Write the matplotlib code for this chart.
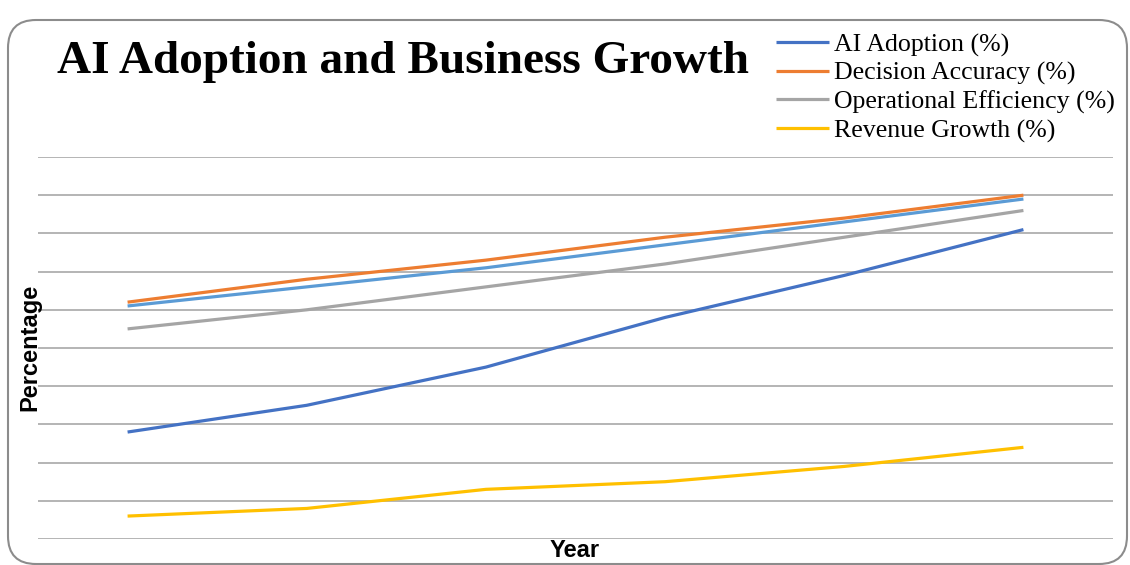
import matplotlib
matplotlib.use('Agg')
import matplotlib.pyplot as plt
from matplotlib.patches import FancyBboxPatch

# values (no axis labels shown, scale 0-100)
years = [0, 1, 2, 3, 4, 5]
ai_adoption = [28, 35, 45, 58, 69, 81]
decision_accuracy = [62, 68, 73, 79, 84, 90]
operational_efficiency = [55, 60, 66, 72, 79, 86]
revenue_growth = [6, 8, 13, 15, 19, 24]
extra_series = [61, 66, 71, 77, 83, 89]  # drawn but not in the legend

labels = ['AI Adoption (%)', 'Decision Accuracy (%)',
          'Operational Efficiency (%)', 'Revenue Growth (%)']
colors = ['#4472C4', '#ED7D31', '#A5A5A5', '#FFC000']

fig = plt.figure(figsize=(11.3, 5.65), dpi=100)
ax = fig.add_axes([38/1130, 1-539/565, (1113-38)/1130, (539-157)/565])

lines = []
for vals, c, lab in zip([ai_adoption, decision_accuracy, operational_efficiency, revenue_growth], colors, labels):
    ln, = ax.plot(years, vals, color=c, linewidth=2.3, label=lab, solid_capstyle='butt')
    lines.append(ln)
ax.plot(years, extra_series, color='#5B9BD5', linewidth=2.3, solid_capstyle='butt')

ax.set_xlim(-0.5, 5.5)
ax.set_ylim(0, 100)
ax.set_yticks(range(0, 101, 10))
ax.grid(axis='y', color='#a0a0a0', linewidth=1.1)
ax.set_axisbelow(True)
ax.tick_params(left=False, bottom=False, labelleft=False, labelbottom=False)
for s in ax.spines.values():
    s.set_visible(False)

fig.text(57/1130, 1-73/565, 'AI Adoption and Business Growth', family='Liberation Serif',
         fontweight='bold', fontsize=34, ha='left', va='baseline')
fig.text(575/1130, 1-539/565, 'Year', family='Liberation Sans', fontweight='bold',
         fontsize=17, ha='center', va='top')
fig.text(30/1130, 1-347/565, 'Percentage', family='Liberation Sans', fontweight='bold',
         fontsize=17, ha='center', va='center', rotation=90)

fig.legend(handles=lines, loc='upper left', bbox_to_anchor=(776/1130, 1-33/565),
           frameon=False, borderpad=0, borderaxespad=0, handlelength=2.05,
           handletextpad=0.2, labelspacing=0.2,
           prop={'family': 'Liberation Serif', 'size': 18.6})

border = FancyBboxPatch((0.08, 0.01), 11.19, 5.44, boxstyle='round,pad=0,rounding_size=0.28',
                        transform=fig.dpi_scale_trans, facecolor='none',
                        edgecolor='#8c8c8c', linewidth=1.5)
fig.patches.append(border)

fig.savefig('out.png', dpi=100)
